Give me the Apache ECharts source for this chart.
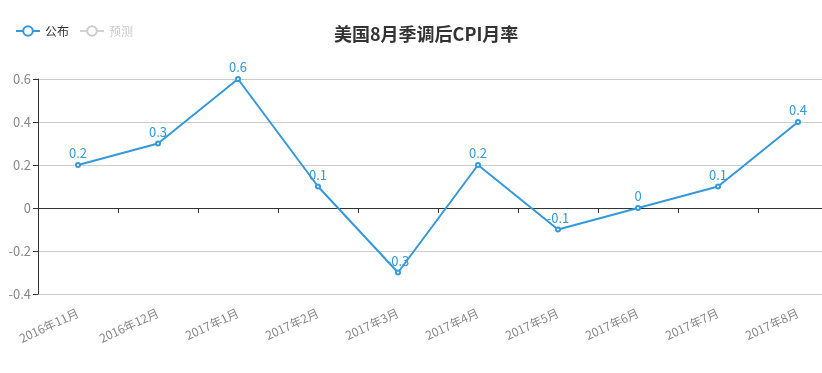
<!DOCTYPE html>
<html>
<head>
<meta charset="utf-8">
<script src="https://cdn.jsdelivr.net/npm/echarts@6/dist/echarts.min.js"></script>
<style>html,body{margin:0;padding:0;background:#fff;overflow:hidden;width:822px;height:373px;}#c{width:850px;height:373px;}</style>
</head>
<body>
<div id="c"></div>
<script>
var categories = ['2016年11月','2016年12月','2017年1月','2017年2月','2017年3月','2017年4月','2017年5月','2017年6月','2017年7月','2017年8月'];
var published = [0.2, 0.3, 0.6, 0.1, -0.3, 0.2, -0.1, 0, 0.1, 0.4];
var forecast = [];
var titleText = '美国8月季调后CPI月率';
var legendNames = ['公布', '预测'];

var font = '"Microsoft YaHei","Noto Sans CJK SC",sans-serif';
var chart = echarts.init(document.getElementById('c'));
chart.setOption({
  animation: false,
  textStyle: { fontFamily: font },
  title: {
    text: titleText,
    left: 329, top: 20,
    textStyle: { fontSize: 18, fontWeight: 'bold', color: '#333', fontFamily: font }
  },
  legend: {
    data: legendNames,
    left: 10, top: 20,
    itemWidth: 24, itemHeight: 12, itemGap: 10,
    selected: { '预测': false },
    inactiveColor: '#ccc',
    textStyle: { fontSize: 12, color: '#333', fontFamily: font }
  },
  grid: { left: 38, width: 800, top: 79, height: 215, containLabel: false },
  xAxis: [{
    type: 'category', data: categories, boundaryGap: true,
    position: 'bottom',
    axisLine: { show: false, onZero: false },
    axisTick: { show: false },
    splitLine: { show: false },
    axisLabel: { rotate: 25, color: '#888', fontSize: 12, margin: 18, interval: 0, fontFamily: font }
  }, {
    type: 'category', data: categories, boundaryGap: true,
    position: 'bottom',
    axisLine: { show: true, onZero: true, onZeroAxisIndex: 0, lineStyle: { color: '#333', width: 1 } },
    axisTick: { show: true, length: 5, interval: 0, lineStyle: { color: '#333' } },
    axisLabel: { show: false, interval: 0 },
    splitLine: { show: false }
  }],
  yAxis: {
    type: 'value', min: -0.4, max: 0.6, interval: 0.2,
    axisLine: { show: true, lineStyle: { color: '#333' } },
    axisTick: { show: true, length: 5, lineStyle: { color: '#333' } },
    axisLabel: { color: '#888', fontSize: 13, margin: 7, fontFamily: font,
      formatter: function (v) { return String(Math.round(v * 10) / 10); } },
    splitLine: { show: true, lineStyle: { color: '#ccc' } }
  },
  series: [{
    name: '公布', type: 'line', data: published, xAxisIndex: 0,
    symbol: 'emptyCircle', symbolSize: 4,
    itemStyle: { color: '#3498db' },
    lineStyle: { width: 2, color: '#3498db' },
    label: { show: true, position: 'top', color: '#3498db', fontSize: 13, distance: 2, fontFamily: font }
  }, {
    name: '预测', type: 'line', data: forecast, xAxisIndex: 0,
    symbol: 'emptyCircle', symbolSize: 4,
    itemStyle: { color: '#ccc' }
  }]
});
</script>
</body>
</html>
